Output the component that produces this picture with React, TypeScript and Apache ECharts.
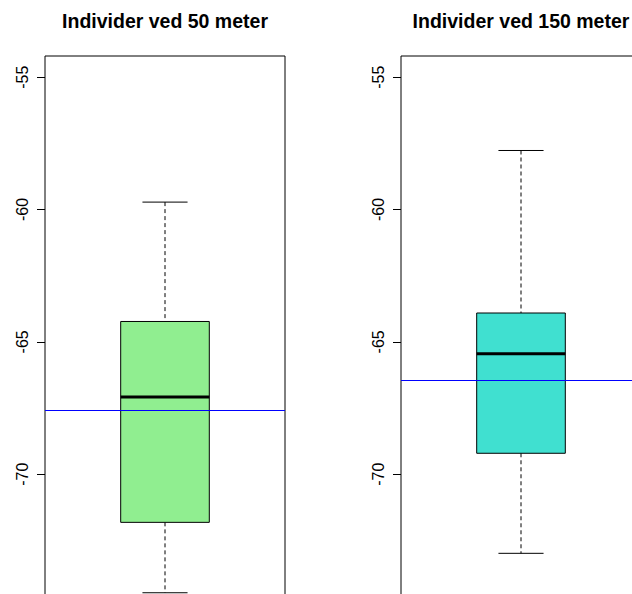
import React, { useEffect, useRef } from "react";
import * as echarts from "echarts";

const panelTitles = ["Individer ved 50 meter", "Individer ved 150 meter"];
const boxMin = [-74.48, -72.99];
const boxQ1 = [-71.82, -69.21];
const boxMedian = [-67.08, -65.45];
const boxQ3 = [-64.23, -63.91];
const boxMax = [-59.72, -57.77];
const meanLine = [-67.58, -66.45];
const boxColors = ["#90EE90", "#40E0D0"];
const yTicks = [-55, -60, -65, -70];
const yMin = -75.8;
const yMax = -54.2;

const FONT = '"Liberation Sans", Arial, Helvetica, sans-serif';

export default function App() {
  const ref = useRef<HTMLDivElement>(null);
  useEffect(() => {
    if (!ref.current) return;
    const chart = echarts.init(ref.current, undefined, { renderer: "svg" });
    const gridLefts = [45, 401];
    const gridW = 240;
    const gridTop = 56;
    const gridH = 571.7;

    const renderBox = (fill: string) => (params: any, api: any) => {
      const xi = api.value(0);
      const pMin = api.coord([xi, api.value(1)]);
      const pQ1 = api.coord([xi, api.value(2)]);
      const pMed = api.coord([xi, api.value(3)]);
      const pQ3 = api.coord([xi, api.value(4)]);
      const pMax = api.coord([xi, api.value(5)]);
      const bw = api.size([1, 0])[0];
      const half = bw * 0.1846;
      const capHalf = bw * 0.094;
      const cx = pMed[0];
      const dash = { stroke: "#000", lineWidth: 1, lineDash: [4, 3], fill: null };
      const solid = { stroke: "#000", lineWidth: 1, fill: null };
      return {
        type: "group",
        children: [
          { type: "line", shape: { x1: cx, y1: pMax[1], x2: cx, y2: pQ3[1] }, style: dash },
          { type: "line", shape: { x1: cx, y1: pQ1[1], x2: cx, y2: pMin[1] }, style: dash },
          { type: "line", shape: { x1: cx - capHalf, y1: pMax[1], x2: cx + capHalf, y2: pMax[1] }, style: solid },
          { type: "line", shape: { x1: cx - capHalf, y1: pMin[1], x2: cx + capHalf, y2: pMin[1] }, style: solid },
          {
            type: "rect",
            shape: { x: cx - half, y: pQ3[1], width: half * 2, height: pQ1[1] - pQ3[1] },
            style: { fill, stroke: "#000", lineWidth: 1 },
          },
          {
            type: "line",
            shape: { x1: cx - half, y1: pMed[1], x2: cx + half, y2: pMed[1] },
            style: { stroke: "#000", lineWidth: 3 },
          },
        ],
      };
    };

    const option: any = {
      animation: false,
      backgroundColor: "#fff",
      textStyle: { fontFamily: FONT },
      grid: gridLefts.map((l) => ({
        left: l,
        top: gridTop,
        width: gridW,
        height: gridH,
        show: true,
        borderColor: "#000",
        borderWidth: 1,
        backgroundColor: "transparent",
      })),
      xAxis: gridLefts.map((_, i) => ({
        type: "category",
        gridIndex: i,
        data: ["1"],
        show: false,
      })),
      yAxis: gridLefts.map((_, i) => ({
        type: "value",
        gridIndex: i,
        min: yMin,
        max: yMax,
        splitLine: { show: false },
        axisLine: { show: false },
        axisTick: {
          show: true,
          length: 8,
          inside: false,
          customValues: yTicks,
          lineStyle: { color: "#000", width: 1 },
        },
        axisLabel: {
          show: true,
          rotate: 90,
          margin: 15,
          customValues: yTicks,
          color: "#000",
          fontSize: 16,
          fontFamily: FONT,
        },
      })),
      graphic: panelTitles.map((t, i) => ({
        type: "text",
        x: gridLefts[i] + gridW / 2,
        y: 21,
        style: {
          text: t,
          textAlign: "center",
          textVerticalAlign: "middle",
          fontSize: 19.5,
          fontWeight: "bold",
          fontFamily: FONT,
          fill: "#000",
        },
      })),
      series: panelTitles.map((_, i) => ({
        type: "custom",
        name: panelTitles[i],
        xAxisIndex: i,
        yAxisIndex: i,
        itemStyle: { color: "#0000FF" },
        encode: { x: 0, y: [1, 2, 3, 4, 5] },
        data: [[0, boxMin[i], boxQ1[i], boxMedian[i], boxQ3[i], boxMax[i]]],
        renderItem: renderBox(boxColors[i]),
        markLine: {
          silent: true,
          symbol: "none",
          label: { show: false },
          lineStyle: { color: "#0000FF", width: 1, type: "solid" },
          data: [{ yAxis: meanLine[i], lineStyle: { color: "#0000FF", width: 1, type: "solid" } }],
        },
      })),
    };
    chart.setOption(option);
    return () => chart.dispose();
  }, []);
  return (
    <div
      style={{
        position: "absolute",
        left: 0,
        top: 0,
        width: 632,
        height: 594,
        overflow: "hidden",
        background: "#fff",
      }}
    >
      <div ref={ref} style={{ width: 700, height: 660 }} />
    </div>
  );
}
